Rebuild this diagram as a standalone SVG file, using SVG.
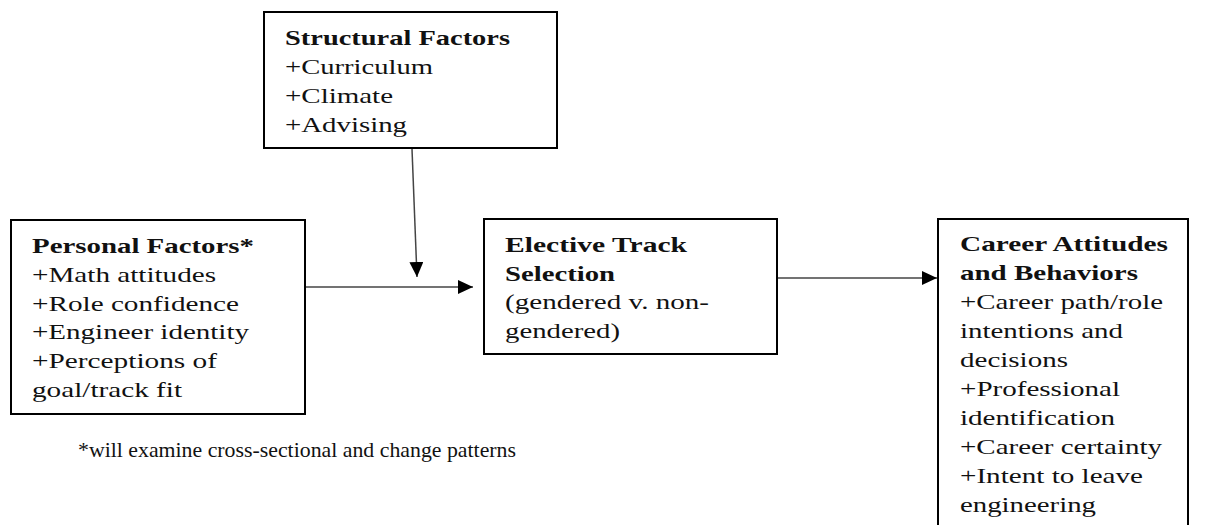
<svg xmlns="http://www.w3.org/2000/svg" width="1228" height="525" viewBox="0 0 1228 525">
<style>
.box{fill:#fff;stroke:#000;stroke-width:2}
.t{font-family:"Liberation Serif","Times New Roman",serif;font-size:22px;fill:#111}
.b{font-weight:bold}
.conn{stroke:#444;stroke-width:1.5;fill:none}
</style>
<defs>
<marker id="ah" markerWidth="15" markerHeight="14" refX="15" refY="7" orient="auto" markerUnits="userSpaceOnUse">
<path d="M0,0 L15,7 L0,14 Z" fill="#000"/>
</marker>
</defs>
<rect width="1228" height="525" fill="#fff"/>
<g id="structural">
<rect class="box" x="264" y="12" width="293" height="136"/>
<text class="t b" x="285" y="45" textLength="225" lengthAdjust="spacingAndGlyphs">Structural Factors</text>
<text class="t" x="285" y="74" textLength="148" lengthAdjust="spacingAndGlyphs">+Curriculum</text>
<text class="t" x="285" y="103" textLength="108" lengthAdjust="spacingAndGlyphs">+Climate</text>
<text class="t" x="285" y="132" textLength="122" lengthAdjust="spacingAndGlyphs">+Advising</text>
</g>
<g id="personal">
<rect class="box" x="11" y="220" width="294" height="194"/>
<text class="t b" x="32" y="253" textLength="222" lengthAdjust="spacingAndGlyphs">Personal Factors*</text>
<text class="t" x="32" y="282" textLength="184" lengthAdjust="spacingAndGlyphs">+Math attitudes</text>
<text class="t" x="32" y="311" textLength="207" lengthAdjust="spacingAndGlyphs">+Role confidence</text>
<text class="t" x="32" y="339" textLength="217" lengthAdjust="spacingAndGlyphs">+Engineer identity</text>
<text class="t" x="32" y="368" textLength="185" lengthAdjust="spacingAndGlyphs">+Perceptions of</text>
<text class="t" x="32" y="397" textLength="150" lengthAdjust="spacingAndGlyphs">goal/track fit</text>
</g>
<g id="elective">
<rect class="box" x="484" y="219" width="293" height="135"/>
<text class="t b" x="505" y="252" textLength="182" lengthAdjust="spacingAndGlyphs">Elective Track</text>
<text class="t b" x="505" y="281" textLength="110" lengthAdjust="spacingAndGlyphs">Selection</text>
<text class="t" x="505" y="309" textLength="204" lengthAdjust="spacingAndGlyphs">(gendered v. non-</text>
<text class="t" x="505" y="338" textLength="115" lengthAdjust="spacingAndGlyphs">gendered)</text>
</g>
<g id="career">
<rect class="box" x="938" y="219" width="250" height="320"/>
<text class="t b" x="960" y="251" textLength="208" lengthAdjust="spacingAndGlyphs">Career Attitudes</text>
<text class="t b" x="960" y="280" textLength="178" lengthAdjust="spacingAndGlyphs">and Behaviors</text>
<text class="t" x="960" y="309" textLength="203" lengthAdjust="spacingAndGlyphs">+Career path/role</text>
<text class="t" x="960" y="338" textLength="163" lengthAdjust="spacingAndGlyphs">intentions and</text>
<text class="t" x="960" y="367" textLength="108" lengthAdjust="spacingAndGlyphs">decisions</text>
<text class="t" x="960" y="396" textLength="160" lengthAdjust="spacingAndGlyphs">+Professional</text>
<text class="t" x="960" y="425" textLength="155" lengthAdjust="spacingAndGlyphs">identification</text>
<text class="t" x="960" y="454" textLength="202" lengthAdjust="spacingAndGlyphs">+Career certainty</text>
<text class="t" x="960" y="483" textLength="183" lengthAdjust="spacingAndGlyphs">+Intent to leave</text>
<text class="t" x="960" y="512" textLength="136" lengthAdjust="spacingAndGlyphs">engineering</text>
</g>
<g id="footnote">
<text class="t" x="78" y="457" textLength="438" lengthAdjust="spacingAndGlyphs">*will examine cross-sectional and change patterns</text>
</g>
<g id="connectors">
<line class="conn" x1="412" y1="149" x2="417" y2="277" marker-end="url(#ah)"/>
<line class="conn" x1="306" y1="287" x2="473" y2="287" marker-end="url(#ah)"/>
<line class="conn" x1="778" y1="278" x2="937" y2="278" marker-end="url(#ah)"/>
</g>
</svg>
